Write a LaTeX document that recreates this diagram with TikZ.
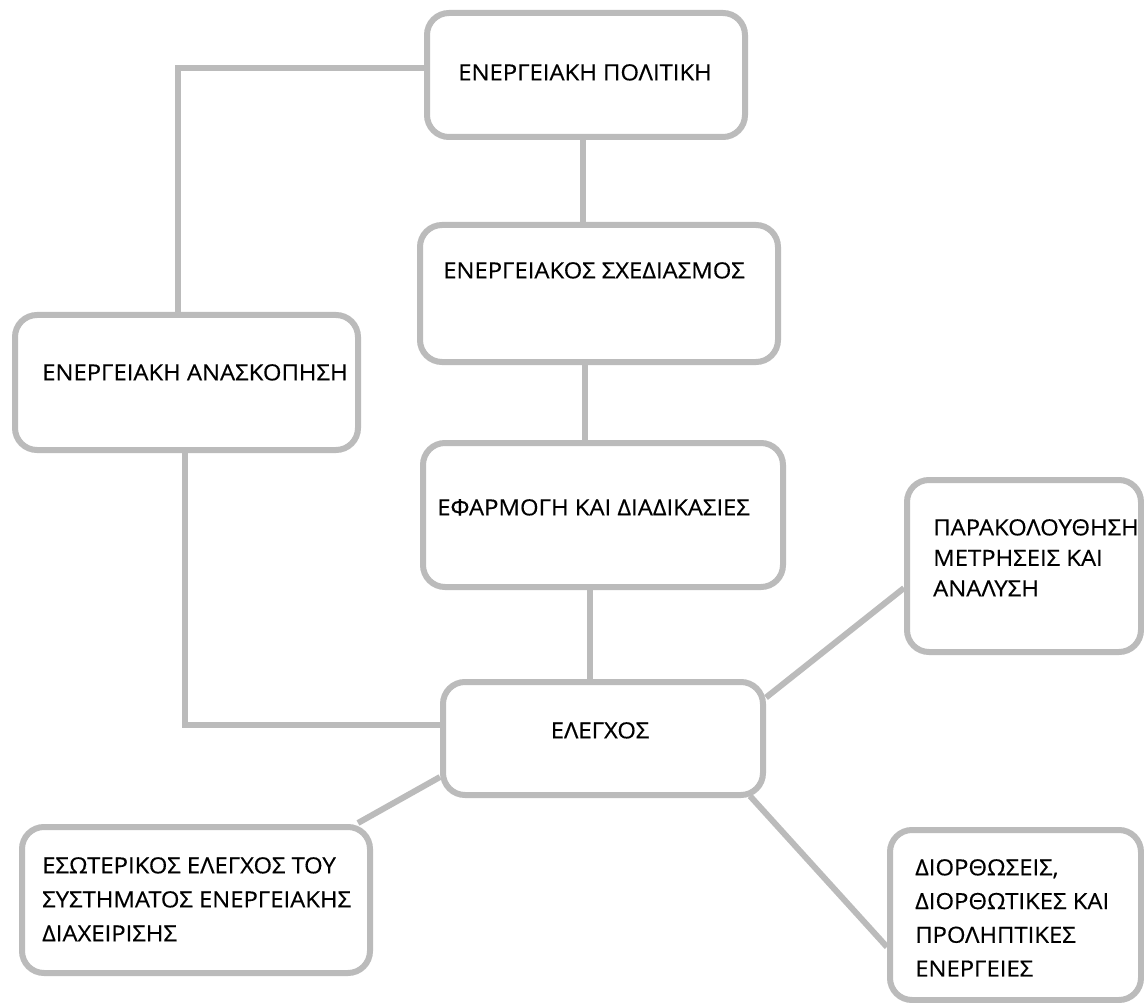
\documentclass[tikz,border=0pt]{standalone}
\usepackage{fontspec}
\setmainfont{Open Sans}[FakeStretch=1.07,FakeBold=0.4]
\definecolor{boxgray}{HTML}{BBBBBB}
\begin{document}
\begin{tikzpicture}[x=1pt,y=-1pt,
  box/.style={draw=boxgray,line width=6pt,rounded corners=22pt,fill=white,inner sep=0pt},
  conn/.style={draw=boxgray,line width=6pt},
  lbl/.style={inner sep=0pt,font=\fontsize{22.3}{33}\selectfont,text=black,align=left}]
\path[use as bounding box,fill=white] (0,0) rectangle (1144,1003);
% boxes
\node[box,minimum width=318pt,minimum height=124pt] (policy) at (586,75) {};
\node[box,minimum width=358pt,minimum height=137pt] (plan) at (599,293.5) {};
\node[box,minimum width=360pt,minimum height=144pt] (impl) at (603,515) {};
\node[box,minimum width=320pt,minimum height=113pt] (control) at (603,738.5) {};
\node[box,minimum width=343pt,minimum height=135pt] (review) at (186.5,382.5) {};
\node[box,minimum width=234pt,minimum height=172pt] (monitor) at (1024,566) {};
\node[box,minimum width=348pt,minimum height=146pt] (internal) at (196,900) {};
\node[box,minimum width=251pt,minimum height=170pt] (correct) at (1015.5,915) {};
% connectors
\draw[conn] ([yshift=7pt]policy.west) -| ([xshift=-8.5pt]review.north);
\draw[conn] ([xshift=-3pt]policy.south) -- ([xshift=-3pt]policy.south |- plan.north);
\draw[conn] ([xshift=-14pt]plan.south) -- ([xshift=-14pt]plan.south |- impl.north);
\draw[conn] ([xshift=-13pt]impl.south) -- ([xshift=-13pt]impl.south |- control.north);
\draw[conn] ([xshift=-1.5pt]review.south) |- ([yshift=13.5pt]control.west);
\draw[conn] ([yshift=41pt]control.east) -- ([yshift=-22pt]monitor.west);
\draw[conn] ([yshift=-38.5pt]control.west) -- ([xshift=-15pt,yshift=1pt]internal.north east);
\draw[conn] ([xshift=-16pt,yshift=2pt]control.south east) -- ([yshift=-32pt]correct.west);
% labels
\node[lbl,anchor=north] (tpolicy) at (585,64) {ΕΝΕΡΓΕΙΑΚΗ ΠΟΛΙΤΙΚΗ};
\node[lbl,anchor=north west] (tplan) at (443,262) {ΕΝΕΡΓΕΙΑΚΟΣ ΣΧΕΔΙΑΣΜΟΣ};
\node[lbl,anchor=north west] (timpl) at (437,499) {ΕΦΑΡΜΟΓΗ ΚΑΙ ΔΙΑΔΙΚΑΣΙΕΣ};
\node[lbl,anchor=north] (tcontrol) at (600,722) {ΕΛΕΓΧΟΣ};
\node[lbl,anchor=north west] (treview) at (42,364) {ΕΝΕΡΓΕΙΑΚΗ ΑΝΑΣΚΟΠΗΣΗ};
\node[lbl,anchor=north west,font=\fontsize{22.3}{30.5}\selectfont] (tmonitor) at (933,519) {ΠΑΡΑΚΟΛΟΥΘΗΣΗ\\ΜΕΤΡΗΣΕΙΣ ΚΑΙ\\ΑΝΑΛΥΣΗ};
\node[lbl,anchor=north west,font=\fontsize{22.3}{34}\selectfont] (tinternal) at (42,857) {ΕΣΩΤΕΡΙΚΟΣ ΕΛΕΓΧΟΣ ΤΟΥ\\ΣΥΣΤΗΜΑΤΟΣ ΕΝΕΡΓΕΙΑΚΗΣ\\ΔΙΑΧΕΙΡΙΣΗΣ};
\node[lbl,anchor=north west,font=\fontsize{22.3}{33.7}\selectfont] (tcorrect) at (915,859) {ΔΙΟΡΘΩΣΕΙΣ,\\ΔΙΟΡΘΩΤΙΚΕΣ ΚΑΙ\\ΠΡΟΛΗΠΤΙΚΕΣ\\ΕΝΕΡΓΕΙΕΣ};
\end{tikzpicture}
\end{document}
